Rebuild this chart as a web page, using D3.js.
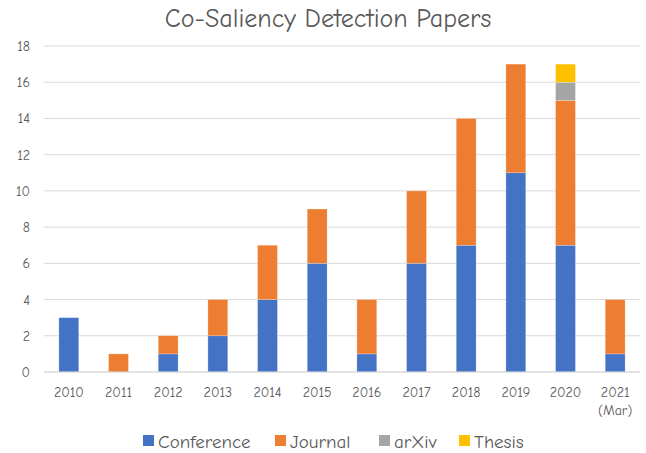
<!DOCTYPE html>
<html lang="en">
<head>
<meta charset="UTF-8">
<title>Co-Saliency Detection Papers</title>
<script src="https://d3js.org/d3.v7.min.js"></script>
<style>
  body { margin: 0; background: #fff; }
  text { font-family: "Comic Sans MS", "Comic Neue", "Lato", "DejaVu Sans", sans-serif; }
</style>
</head>
<body>
<svg id="chart" width="646" height="453"></svg>
<script>
    // Data
    const years = ["2010", "2011", "2012", "2013", "2014", "2015", "2016", "2017", "2018", "2019", "2020", "2021\n(Mar)"];
    const conference = [3, 0, 1, 2, 4, 6, 1, 6, 7, 11, 7, 1];
    const journal = [0, 1, 1, 2, 3, 3, 3, 4, 7, 6, 8, 3];
    const arxiv = [0, 0, 0, 0, 0, 0, 0, 0, 0, 0, 1, 0];
    const thesis = [0, 0, 0, 0, 0, 0, 0, 0, 0, 0, 1, 0];
    const seriesNames = ["Conference", "Journal", "arXiv", "Thesis"];
    const yTicks = [0, 2, 4, 6, 8, 10, 12, 14, 16, 18];

    const colors = ["#4472C4", "#ED7D31", "#A5A5A5", "#FFC000"];

    // build table for the stack layout
    const table = years.map((y, i) => ({
        year: y,
        Conference: conference[i],
        Journal: journal[i],
        arXiv: arxiv[i],
        Thesis: thesis[i]
    }));

    const margin = { top: 46, right: 6, bottom: 81, left: 44 };
    const width = 646 - margin.left - margin.right;
    const height = 453 - margin.top - margin.bottom;

    const svg = d3.select("#chart");
    const g = svg.append("g")
        .attr("transform", `translate(${margin.left},${margin.top})`);

    const x = d3.scaleBand()
        .domain(years)
        .range([0, width])
        .paddingInner(0.6)
        .paddingOuter(0.3);

    const y = d3.scaleLinear()
        .domain([0, 18])
        .range([height, 0]);

    // gridlines
    g.append("g")
        .selectAll("line")
        .data(yTicks)
        .join("line")
        .attr("x1", 0)
        .attr("x2", width)
        .attr("y1", d => y(d))
        .attr("y2", d => y(d))
        .attr("stroke", "#D9D9D9")
        .attr("stroke-width", 1);

    // y axis labels
    const yAxis = g.append("g")
        .call(d3.axisLeft(y).tickValues(yTicks).tickSize(0).tickPadding(14));
    yAxis.select(".domain").remove();
    yAxis.selectAll("text")
        .attr("fill", "#595959")
        .style("font-size", "14px");

    // stacked bars
    const stack = d3.stack().keys(seriesNames);
    const stacked = stack(table);

    g.append("g")
        .selectAll("g")
        .data(stacked)
        .join("g")
        .attr("fill", (d, i) => colors[i])
        .selectAll("rect")
        .data(d => d.filter(s => s[1] - s[0] > 0))
        .join("rect")
        .attr("x", d => x(d.data.year))
        .attr("y", d => y(d[1]))
        .attr("width", x.bandwidth())
        .attr("height", d => y(d[0]) - y(d[1]))
        .attr("stroke", "#ffffff")
        .attr("stroke-opacity", 0.4)
        .attr("stroke-width", 0.6);

    // baseline
    g.append("line")
        .attr("x1", 0)
        .attr("x2", width)
        .attr("y1", y(0))
        .attr("y2", y(0))
        .attr("stroke", "#D9D9D9");

    // x axis labels
    const xAxis = g.append("g")
        .attr("transform", `translate(0,${height})`)
        .call(d3.axisBottom(x).tickSize(0).tickPadding(15));
    xAxis.select(".domain").remove();
    xAxis.selectAll("text")
        .attr("fill", "#595959")
        .style("font-size", "14px")
        .text(null)
        .selectAll("tspan")
        .data(d => d.split("\n"))
        .join("tspan")
        .attr("x", 0)
        .attr("dy", (d, i) => i === 0 ? "0.71em" : "1.3em")
        .text(d => d);

    // title
    svg.append("text")
        .attr("x", 328)
        .attr("y", 27)
        .attr("text-anchor", "middle")
        .attr("fill", "#595959")
        .style("font-size", "26px")
        .text("Co-Saliency Detection Papers");

    // legend
    const legendItems = [
        { name: "Conference", x: 143 },
        { name: "Journal", x: 275 },
        { name: "arXiv", x: 379 },
        { name: "Thesis", x: 459 }
    ];
    const legend = svg.append("g").attr("transform", "translate(0,441)");
    const li = legend.selectAll("g")
        .data(legendItems)
        .join("g")
        .attr("transform", d => `translate(${d.x},0)`);
    li.append("rect")
        .attr("x", 0)
        .attr("y", -6)
        .attr("width", 11)
        .attr("height", 11)
        .attr("fill", (d, i) => colors[i]);
    li.append("text")
        .attr("x", 15)
        .attr("y", 0)
        .attr("dy", "0.35em")
        .attr("fill", "#595959")
        .style("font-size", "19px")
        .text(d => d.name);
</script>
</body>
</html>
